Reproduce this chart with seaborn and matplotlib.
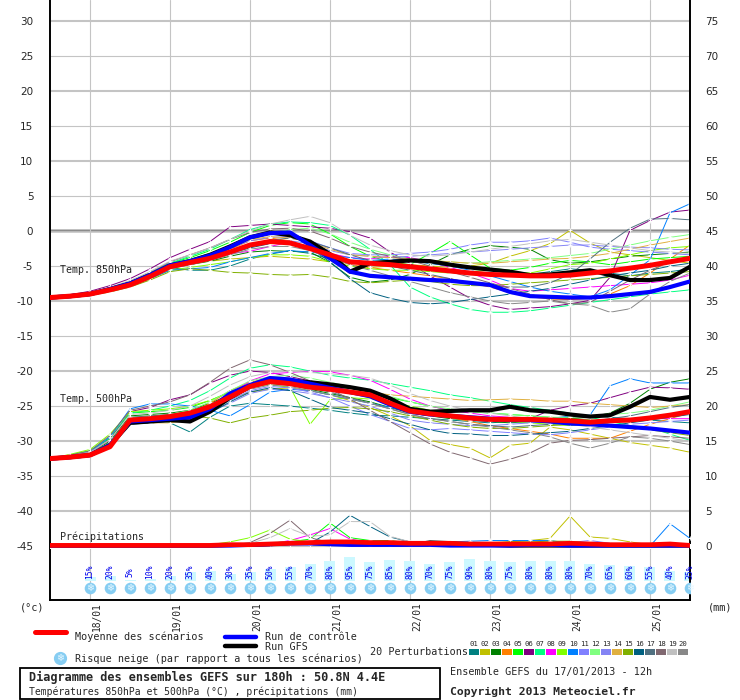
import matplotlib
matplotlib.use("Agg")
import matplotlib.pyplot as plt
from matplotlib.lines import Line2D
from matplotlib.patches import Rectangle
import pandas as pd
import seaborn as sns

# ---------------- data ----------------
hours = [0, 6, 12, 18, 24, 30, 36, 42, 48, 54, 60, 66, 72, 78, 84, 90, 96,
         102, 108, 114, 120, 126, 132, 138, 144, 150, 156, 162, 168, 174, 180, 186, 192]
day_hours = [12, 36, 60, 84, 108, 132, 156, 180]
day_labels = ["18/01", "19/01", "20/01", "21/01", "22/01", "23/01", "24/01", "25/01"]

member_ids = ["01", "02", "03", "04", "05", "06", "07", "08", "09", "10",
              "11", "12", "13", "14", "15", "16", "17", "18", "19", "20"]
member_colors = ["#008080", "#c0c000", "#008000", "#ff8000", "#00ff00", "#800080", "#00ff80",
                 "#ff00ff", "#80ff00", "#0080ff", "#8080ff", "#80ff80", "#8484f4", "#e0b040",
                 "#80b000", "#006080", "#507080", "#806870", "#c0c0c0", "#888888"]

# 850 hPa temperature (degC)
mean850 = [-9.5,-9.3,-9.0,-8.4,-7.7,-6.5,-5.1,-4.5,-3.9,-3.0,-2.0,-1.5,-1.7,-2.5,-3.4,-4.4,-4.6,-4.8,-5.1,-5.4,-5.7,-6.0,-6.2,-6.3,-6.4,-6.4,-6.3,-6.0,-5.7,-5.3,-4.9,-4.4,-3.9]
ctl850 = [-9.5,-9.3,-9.0,-8.3,-7.5,-6.3,-4.9,-4.3,-3.5,-2.3,-0.9,-0.3,-0.2,-2.0,-3.9,-5.8,-6.4,-6.6,-6.8,-7.0,-7.1,-7.4,-7.7,-8.7,-9.3,-9.4,-9.5,-9.5,-9.3,-9.0,-8.7,-8.0,-7.2]
gfs850 = [-9.5,-9.3,-9.0,-8.3,-7.5,-6.3,-4.9,-4.3,-3.4,-2.2,-0.9,-0.2,-0.6,-1.5,-3.3,-5.8,-4.6,-4.4,-4.2,-4.3,-4.8,-5.2,-5.5,-5.8,-6.3,-6.2,-5.9,-5.6,-6.3,-7.0,-7.0,-6.7,-5.1]
m850_01 = [-9.5,-9.3,-9.0,-8.4,-7.6,-6.4,-5.2,-5.6,-5.6,-5.0,-4.0,-3.3,-2.8,-3.2,-4.0,-4.6,-4.4,-4.2,-4.4,-4.6,-5.0,-5.2,-5.4,-5.8,-6.2,-5.8,-5.4,-5.6,-6.0,-6.4,-6.0,-5.8,-5.4]
m850_02 = [-9.5,-9.2,-8.9,-8.2,-7.5,-6.3,-5.0,-4.6,-4.3,-4.0,-3.8,-3.6,-3.8,-4.0,-4.4,-5.0,-5.2,-5.0,-4.8,-5.0,-5.2,-5.0,-4.6,-3.6,-2.8,-1.8,0.1,-1.7,-3.0,-3.4,-3.8,-4.2,-4.6]
m850_03 = [-9.5,-9.3,-9.0,-8.4,-7.7,-6.6,-5.3,-4.8,-4.3,-3.6,-3.0,-2.8,-2.9,-3.0,-4.5,-6.6,-7.3,-7.0,-6.2,-4.8,-3.4,-2.6,-2.1,-2.3,-2.6,-4.1,-4.6,-4.4,-4.0,-3.6,-3.4,-3.2,-3.0]
m850_04 = [-9.5,-9.3,-9.0,-8.3,-7.6,-6.4,-5.0,-4.4,-3.6,-2.6,-1.4,-1.0,-1.4,-2.6,-3.8,-4.8,-5.2,-5.6,-6.0,-6.4,-6.8,-7.4,-8.0,-8.8,-9.4,-9.7,-9.8,-9.6,-9.0,-7.8,-6.0,-4.0,-2.0]
m850_05 = [-9.5,-9.2,-8.8,-8.1,-7.2,-6.0,-4.6,-3.8,-2.8,-1.6,-0.2,0.8,1.2,1.0,-0.4,-2.2,-3.6,-4.4,-4.8,-3.2,-1.5,-3.4,-5.3,-5.6,-5.2,-4.6,-4.2,-4.4,-4.8,-4.4,-4.0,-3.8,-3.6]
m850_06 = [-9.5,-9.1,-8.6,-7.8,-6.8,-5.4,-3.8,-2.6,-1.5,0.6,0.8,1.0,0.8,0.6,0.4,-0.1,-1.0,-3.0,-4.6,-6.4,-8.0,-9.6,-10.6,-11.2,-11.0,-10.8,-10.4,-9.9,-6.6,0.1,1.5,2.7,3.0]
m850_07 = [-9.5,-9.2,-8.8,-8.1,-7.2,-6.0,-4.6,-3.6,-2.6,-1.2,0.2,1.0,1.3,1.2,0.8,-0.6,-2.6,-4.8,-8.0,-9.4,-10.4,-11.2,-11.6,-11.6,-11.4,-11.0,-10.6,-10.2,-9.8,-9.4,-9.0,-8.7,-8.4]
m850_08 = [-9.5,-9.3,-9.0,-8.4,-7.6,-6.4,-5.0,-4.4,-3.8,-3.2,-2.9,-2.2,-1.6,-2.2,-3.2,-3.8,-4.0,-3.6,-3.8,-4.4,-5.2,-6.0,-7.0,-8.2,-8.6,-8.4,-8.2,-8.0,-7.8,-7.6,-7.4,-7.0,-6.3]
m850_09 = [-9.5,-9.4,-9.2,-8.6,-7.9,-6.8,-5.6,-5.2,-4.8,-4.4,-3.8,-3.4,-3.4,-3.6,-4.4,-5.0,-5.4,-5.6,-5.6,-5.8,-6.0,-5.8,-5.6,-5.8,-6.0,-5.4,-4.8,-4.6,-4.0,-3.4,-2.8,-2.4,-2.2]
m850_10 = [-9.5,-9.3,-9.0,-8.5,-7.8,-6.8,-5.6,-5.4,-5.2,-4.4,-3.8,-3.2,-2.8,-3.0,-3.4,-3.8,-4.2,-4.0,-4.2,-4.6,-5.0,-5.6,-6.4,-7.2,-8.0,-8.6,-9.0,-9.4,-8.4,-6.3,-4.1,2.6,3.9]
m850_11 = [-9.5,-9.2,-8.9,-8.2,-7.4,-6.2,-4.8,-4.2,-3.4,-2.4,-1.4,-0.9,-0.8,-1.4,-2.4,-3.2,-3.4,-3.4,-3.2,-3.0,-2.6,-2.0,-1.6,-1.6,-1.4,-1.0,-1.6,-2.3,-2.6,-2.8,-3.0,-3.2,-3.4]
m850_12 = [-9.5,-9.2,-8.8,-8.1,-7.3,-6.1,-4.7,-4.0,-3.2,-2.2,-1.2,-0.4,0.2,0.4,-0.4,-1.6,-2.6,-3.4,-4.0,-4.2,-4.4,-4.6,-4.4,-4.2,-4.0,-3.8,-3.5,-3.2,-2.6,-2.0,-1.4,-0.9,-0.5]
m850_13 = [-9.5,-9.3,-9.0,-8.4,-7.7,-6.6,-5.2,-4.6,-3.9,-3.1,-2.2,-1.6,-1.4,-1.8,-2.8,-3.4,-3.6,-3.8,-3.6,-3.4,-3.2,-3.0,-2.8,-2.6,-2.4,-2.2,-2.0,-2.0,-2.2,-2.3,-2.4,-2.6,-2.7]
m850_14 = [-9.5,-9.3,-8.9,-8.2,-7.4,-6.2,-4.8,-4.1,-3.2,-2.2,-1.2,-0.8,-1.0,-1.6,-2.6,-3.4,-3.6,-3.8,-4.0,-4.2,-4.4,-4.6,-4.6,-4.4,-4.2,-4.0,-3.9,-3.6,-3.2,-2.6,-2.0,-1.5,-1.0]
m850_15 = [-9.5,-9.4,-9.2,-8.7,-8.0,-7.0,-5.8,-5.4,-5.6,-5.9,-6.0,-6.2,-6.3,-6.2,-6.6,-7.2,-7.4,-7.2,-7.0,-7.2,-7.6,-7.8,-7.8,-7.6,-7.4,-7.2,-7.0,-6.8,-6.6,-6.4,-6.2,-6.0,-5.8]
m850_16 = [-9.5,-9.3,-9.0,-8.4,-7.7,-6.6,-5.3,-4.7,-4.0,-3.2,-2.4,-1.8,-1.6,-2.4,-4.4,-6.8,-8.8,-9.6,-10.2,-10.4,-10.2,-9.8,-9.4,-9.0,-8.6,-8.2,-7.6,-7.0,-6.4,-6.0,-5.6,-5.0,-4.6]
m850_17 = [-9.5,-9.2,-8.9,-8.3,-7.5,-6.3,-4.9,-4.3,-3.6,-2.8,-2.0,-1.3,-1.0,-1.5,-2.4,-3.4,-4.2,-5.0,-5.6,-6.2,-6.8,-7.4,-7.8,-8.0,-8.0,-7.4,-6.2,-4.0,-1.6,0.4,1.7,1.8,1.6]
m850_18 = [-9.5,-9.2,-8.8,-8.1,-7.2,-5.9,-4.4,-3.4,-2.4,-1.2,-0.2,0.3,0.4,0.0,-1.0,-2.2,-3.0,-3.6,-4.2,-5.0,-5.8,-6.6,-7.4,-8.2,-9.0,-9.8,-10.4,-10.2,-8.6,-7.0,-5.6,-4.4,-3.8]
m850_19 = [-9.5,-9.2,-8.8,-8.0,-7.1,-5.8,-4.3,-3.4,-2.4,-1.2,0.0,1.0,1.6,2.1,1.2,-0.6,-2.0,-2.8,-3.4,-3.6,-3.4,-3.0,-2.6,-2.2,-1.8,-1.4,-1.2,-1.6,-2.0,-2.4,-2.8,-3.0,-3.2]
m850_20 = [-9.5,-9.3,-9.0,-8.5,-7.8,-6.7,-5.4,-4.8,-4.2,-3.4,-2.6,-2.2,-2.2,-2.8,-3.8,-4.8,-5.6,-6.4,-7.2,-8.0,-8.8,-9.4,-10.0,-10.4,-10.2,-10.0,-10.4,-10.6,-11.6,-11.1,-9.0,-7.2,-6.0]

# 500 hPa temperature (degC)
mean500 = [-32.5,-32.3,-32.0,-30.8,-27.0,-26.8,-26.5,-26.0,-25.1,-23.7,-22.2,-21.5,-21.8,-22.3,-22.6,-23.0,-23.4,-24.6,-25.7,-26.1,-26.4,-26.7,-26.9,-26.9,-26.9,-27.0,-27.1,-27.3,-27.1,-27.0,-26.7,-26.3,-25.8]
ctl500 = [-32.5,-32.3,-32.0,-30.6,-27.2,-27.0,-26.8,-26.6,-25.4,-23.2,-22.0,-21.0,-21.2,-21.8,-22.4,-23.0,-23.6,-24.8,-25.8,-26.2,-26.4,-26.6,-26.8,-27.0,-27.0,-27.2,-27.5,-27.6,-27.8,-28.0,-28.2,-28.5,-28.8]
gfs500 = [-32.5,-32.3,-32.0,-30.6,-27.4,-27.2,-27.0,-27.2,-25.8,-23.8,-22.2,-21.2,-21.4,-21.6,-21.9,-22.3,-22.8,-23.9,-25.4,-25.8,-25.7,-25.6,-25.6,-25.1,-25.6,-25.8,-26.2,-26.5,-26.3,-25.1,-23.7,-24.1,-23.7]
m500_01 = [-32.5,-32.2,-31.8,-30.2,-26.8,-26.6,-27.4,-28.7,-26.6,-25.0,-24.6,-24.8,-25.0,-25.3,-25.6,-26.0,-26.3,-26.4,-26.6,-26.8,-27.0,-27.2,-27.4,-27.2,-27.0,-26.8,-26.6,-26.4,-26.6,-26.8,-27.0,-27.2,-27.4]
m500_02 = [-32.5,-32.3,-32.0,-30.4,-27.0,-26.6,-26.4,-26.2,-25.4,-24.0,-23.0,-22.6,-22.4,-22.8,-23.4,-24.2,-25.2,-26.4,-27.8,-29.9,-30.5,-31.0,-32.4,-30.6,-30.3,-28.0,-28.4,-29.0,-29.6,-30.2,-30.6,-31.0,-31.6]
m500_03 = [-32.5,-32.2,-31.8,-30.0,-26.4,-26.2,-26.0,-25.6,-24.6,-23.4,-22.4,-21.8,-22.0,-22.6,-23.2,-23.8,-24.4,-25.2,-26.0,-26.4,-26.8,-27.0,-27.2,-27.4,-27.2,-27.0,-26.8,-26.6,-26.0,-24.6,-22.6,-21.6,-21.1]
m500_04 = [-32.5,-32.3,-31.9,-30.4,-26.8,-26.6,-26.4,-26.0,-24.6,-22.8,-21.6,-21.0,-21.4,-22.0,-22.6,-23.2,-23.8,-24.6,-25.4,-26.0,-26.6,-27.2,-27.8,-28.2,-28.6,-29.0,-29.6,-29.6,-29.6,-28.6,-27.6,-26.8,-26.0]
m500_05 = [-32.5,-32.0,-31.4,-29.6,-26.0,-25.8,-25.6,-25.2,-24.2,-23.0,-21.8,-21.2,-21.0,-21.6,-22.2,-22.8,-23.2,-23.8,-24.4,-25.0,-25.6,-25.8,-26.0,-26.2,-26.4,-26.6,-26.8,-27.0,-27.2,-27.0,-26.8,-26.4,-26.0]
m500_06 = [-32.5,-32.1,-31.6,-29.8,-25.8,-25.2,-24.1,-23.4,-21.7,-20.6,-20.0,-20.2,-20.8,-21.4,-22.0,-22.8,-23.6,-24.4,-25.2,-25.8,-26.4,-27.0,-27.2,-27.2,-26.8,-25.6,-25.0,-24.6,-23.8,-23.0,-22.3,-22.4,-22.6]
m500_07 = [-32.5,-32.0,-31.4,-29.4,-26.0,-25.6,-25.0,-24.2,-22.8,-21.0,-19.6,-19.1,-19.4,-20.0,-20.6,-21.0,-21.3,-21.8,-22.3,-22.8,-23.4,-23.8,-24.3,-24.8,-25.2,-25.6,-26.0,-26.6,-27.2,-27.8,-28.1,-29.0,-29.9]
m500_08 = [-32.5,-32.3,-32.0,-30.8,-27.2,-27.0,-26.8,-26.4,-25.8,-23.4,-21.4,-20.4,-20.2,-20.0,-20.1,-20.6,-21.3,-22.6,-24.0,-25.0,-25.6,-26.0,-26.4,-26.6,-26.8,-27.0,-27.2,-27.4,-27.2,-27.0,-26.8,-26.8,-26.8]
m500_09 = [-32.5,-31.9,-31.2,-29.0,-25.8,-25.6,-25.4,-25.0,-24.2,-23.0,-22.0,-22.0,-22.3,-27.6,-24.1,-23.8,-24.0,-24.4,-25.0,-25.6,-26.2,-26.6,-27.0,-27.2,-27.4,-27.6,-27.8,-27.6,-27.4,-27.0,-26.6,-26.2,-25.8]
m500_10 = [-32.5,-32.1,-31.6,-29.4,-25.4,-24.7,-24.7,-25.0,-25.6,-26.4,-24.8,-23.0,-22.6,-22.8,-23.4,-24.0,-24.6,-25.2,-25.8,-26.2,-26.4,-26.6,-26.8,-27.0,-27.2,-26.8,-26.4,-26.3,-22.1,-21.1,-21.7,-21.7,-21.7]
m500_11 = [-32.5,-32.3,-32.0,-30.6,-27.2,-26.9,-26.6,-26.2,-25.4,-24.2,-22.8,-22.2,-22.4,-23.0,-23.8,-25.0,-26.2,-27.2,-28.2,-28.4,-28.2,-28.4,-28.6,-28.8,-29.0,-29.1,-28.8,-28.4,-28.0,-27.6,-27.4,-27.2,-27.0]
m500_12 = [-32.5,-32.2,-31.8,-30.2,-26.6,-26.4,-26.2,-25.6,-24.4,-22.8,-21.4,-20.8,-20.6,-21.0,-21.6,-22.2,-22.8,-23.6,-24.4,-25.0,-25.4,-25.8,-26.0,-26.2,-26.4,-26.6,-26.6,-26.4,-26.2,-26.0,-25.6,-25.0,-24.4]
m500_13 = [-32.5,-32.3,-32.0,-30.8,-27.4,-27.2,-27.0,-26.6,-25.8,-24.6,-23.2,-22.6,-22.8,-23.2,-23.8,-24.4,-25.0,-26.0,-27.0,-27.4,-27.6,-27.8,-27.8,-27.6,-27.4,-27.2,-27.4,-27.6,-27.8,-28.0,-28.2,-28.6,-29.0]
m500_14 = [-32.5,-32.3,-31.9,-30.6,-27.4,-27.4,-27.4,-27.0,-25.8,-23.8,-22.2,-21.6,-21.6,-21.8,-22.2,-22.6,-23.0,-23.4,-23.6,-23.8,-24.0,-24.2,-24.1,-24.0,-24.1,-24.3,-24.3,-24.6,-24.8,-25.0,-25.2,-25.0,-24.8]
m500_15 = [-32.5,-32.3,-32.0,-30.6,-27.0,-26.8,-26.6,-26.4,-26.7,-27.4,-26.7,-26.3,-25.8,-25.6,-25.3,-25.2,-25.4,-25.8,-26.4,-27.0,-27.6,-28.0,-28.2,-28.2,-28.0,-27.8,-27.6,-27.6,-27.8,-28.0,-28.4,-28.8,-29.2]
m500_16 = [-32.5,-32.3,-32.0,-30.8,-27.6,-27.4,-27.2,-27.0,-26.0,-24.4,-23.0,-22.4,-22.8,-24.0,-25.2,-25.6,-26.0,-26.8,-27.6,-28.4,-28.9,-29.0,-29.2,-29.2,-29.0,-28.8,-28.6,-28.2,-27.8,-27.4,-27.0,-26.6,-26.2]
m500_17 = [-32.5,-32.2,-31.8,-30.2,-26.6,-26.4,-26.2,-25.8,-24.8,-23.4,-22.2,-21.6,-21.8,-22.4,-23.0,-23.8,-24.6,-25.4,-26.2,-26.8,-27.2,-27.6,-27.8,-28.0,-27.8,-27.6,-27.4,-27.2,-26.8,-26.4,-25.8,-25.2,-24.8]
m500_18 = [-32.5,-32.0,-31.4,-29.2,-25.6,-25.0,-24.4,-23.4,-21.6,-19.6,-18.4,-19.1,-20.2,-21.4,-22.6,-24.0,-25.6,-27.2,-28.8,-30.4,-31.6,-32.4,-33.3,-32.6,-31.7,-30.3,-29.9,-29.8,-29.6,-29.4,-29.2,-29.4,-29.6]
m500_19 = [-32.5,-32.1,-31.6,-29.8,-26.2,-26.0,-25.6,-25.0,-23.6,-22.0,-20.8,-20.2,-20.0,-20.2,-20.4,-20.6,-21.0,-22.0,-23.2,-24.2,-25.0,-25.6,-26.0,-26.4,-26.8,-27.2,-27.6,-28.0,-28.4,-28.8,-29.2,-29.6,-30.0]
m500_20 = [-32.5,-32.3,-32.0,-30.6,-27.2,-27.0,-26.8,-26.4,-25.4,-23.8,-22.6,-22.0,-22.2,-22.8,-23.4,-24.0,-24.6,-25.4,-26.2,-26.8,-27.2,-27.6,-28.0,-28.4,-28.8,-29.4,-30.3,-31.0,-30.3,-29.4,-29.6,-30.0,-30.5]

# precipitation (mm)
meanpr = [0.1,0.1,0.1,0.1,0.1,0.1,0.1,0.1,0.1,0.2,0.2,0.3,0.4,0.5,0.6,0.6,0.5,0.5,0.4,0.4,0.4,0.3,0.3,0.3,0.3,0.3,0.4,0.3,0.2,0.2,0.2,0.3,0.1]
ctlpr = [0.0,0.0,0.0,0.0,0.0,0.0,0.0,0.0,0.0,0.0,0.1,0.2,0.3,0.3,0.2,0.1,0.1,0.1,0.1,0.1,0.0,0.0,0.0,0.0,0.1,0.1,0.0,0.0,0.0,0.0,0.0,0.0,0.0]
gfspr = [0.0,0.0,0.0,0.0,0.0,0.0,0.0,0.0,0.0,0.1,0.1,0.2,0.4,0.5,0.4,0.3,0.3,0.2,0.2,0.6,0.5,0.2,0.1,0.0,0.0,0.0,0.0,0.0,0.0,0.0,0.0,0.0,0.0]
p_01 = [0,0,0,0,0,0,0,0,0,0.1,0.2,0.3,0.5,0.4,0.3,0.2,0.1,0.1,0.2,0.3,0.2,0.1,0.1,0.2,0.3,0.2,0.1,0,0,0,0,0,0]
p_02 = [0,0,0,0,0,0,0,0,0,0,0.1,0.2,0.3,0.3,0.2,0.2,0.1,0.1,0.1,0.2,0.3,0.4,0.5,0.6,0.8,1.1,4.3,1.3,1.1,0.6,0.2,0,0]
p_03 = [0,0,0,0,0,0,0,0,0,0.2,0.3,0.2,0.6,0.5,0.6,0.4,0.3,0.2,0.2,0.1,0.1,0.1,0.1,0.2,0.2,0.1,0.1,0,0,0,0,0,0]
p_04 = [0,0,0,0,0,0,0,0,0,0,0,0.1,0.2,0.3,0.2,0.1,0,0,0,0,0,0,0,0,0.1,0.1,0,0,0,0,0,0,0]
p_05 = [0,0,0,0,0,0,0,0,0,0.1,0.2,0.4,0.6,1.0,3.3,1.2,0.8,0.8,0.4,0.3,0.2,0.1,0.1,0.1,0.1,0.1,0,0,0,0,0,0,0]
p_06 = [0,0,0,0,0,0,0,0,0,0,0,0.2,0.3,0.2,0.1,0.2,0.6,0.6,0.5,0.3,0.2,0.1,0.1,0,0,0,0,0,0,0,0,0,0]
p_07 = [0,0,0,0,0,0,0,0,0,0,0.2,0.4,0.7,0.5,0.3,0.2,0.8,0.6,0.3,0.2,0.1,0,0,0,0,0,0,0,0,0,0,0,0]
p_08 = [0,0,0,0,0,0,0,0,0,0,0.1,0.3,0.8,1.6,2.5,1.0,0.5,0.3,0.2,0.1,0.1,0,0,0,0,0,0,0,0,0,0,0,0]
p_09 = [0,0,0,0,0,0,0,0,0.2,0.6,1.2,2.3,1.0,0.6,0.4,0.3,0.2,0.1,0.1,0.1,0,0,0,0,0,0,0,0,0,0,0,0,0]
p_10 = [0,0,0,0,0,0,0,0,0,0,0.1,0.2,0.4,0.3,0.2,0.2,0.1,0.1,0.2,0.4,0.6,0.7,0.8,0.8,0.8,0.8,0.4,0.2,0.1,0,0,3.2,1.1]
p_11 = [0,0,0,0,0,0,0,0,0,0,0,0.1,0.3,0.4,0.2,0.1,0.1,0.1,0.1,0.1,0.2,0.2,0.3,0.3,0.4,0.4,0.5,0.8,0.4,0.2,0.1,0,0]
p_12 = [0,0,0,0,0,0,0,0,0,0.1,0.2,0.5,0.6,0.4,0.2,0.2,0.5,0.4,0.3,0.2,0.1,0.1,0.1,0.1,0.1,0.1,0,0,0,0,0,0,0]
p_13 = [0,0,0,0,0,0,0,0,0,0,0.1,0.3,0.5,0.3,0.2,0.1,0.1,0.1,0.1,0.2,0.2,0.2,0.2,0.2,0.2,0.3,0.2,0.1,0,0,0,0,0]
p_14 = [0,0,0,0,0,0,0,0,0,0,0,0.1,0.2,0.2,0.1,0.1,0.1,0,0,0,0,0.1,0.1,0.1,0.1,0.2,0.2,0.1,0,0,0,0,0]
p_15 = [0,0,0,0,0,0,0,0,0.1,0.2,0.3,0.4,0.3,0.3,0.2,0.2,0.1,0.1,0.1,0.1,0.2,0.3,0.4,0.6,0.6,0.7,0.7,0.4,0.2,0.1,0,0,0]
p_16 = [0,0,0,0,0,0,0,0,0,0.1,0.2,0.3,0.4,0.4,2.0,4.4,2.8,1.3,0.6,0.3,0.2,0.2,0.1,0.1,0.1,0.1,0,0,0,0,0,0,0]
p_17 = [0,0,0,0,0,0,0,0,0,0,0.1,0.2,0.5,0.4,0.3,0.2,0.2,0.3,0.4,0.3,0.2,0.1,0.1,0,0,0,0,0,0,0,0,0,0]
p_18 = [0,0,0,0,0,0,0,0,0,0.1,0.5,1.8,3.7,1.2,0.5,0.3,0.4,0.6,0.6,0.4,0.2,0.1,0.1,0,0,0,0,0,0,0,0,0,0]
p_19 = [0,0,0,0,0,0,0,0,0,0.2,0.4,1.2,2.5,1.4,1.6,3.5,3.5,1.4,0.6,0.5,0.4,0.3,0.2,0.1,0.1,0,0,0,0,0,0,0,0]
p_20 = [0,0,0,0,0,0,0,0,0,0,0.1,0.2,0.4,0.3,0.2,0.2,0.1,0.1,0.2,0.3,0.3,0.2,0.2,0.1,0.1,0.1,0.1,0,0,0,0,0,0]

# snow risk (% of scenarios), every 6h from 18/01 00h
snow_hours = [12, 18, 24, 30, 36, 42, 48, 54, 60, 66, 72, 78, 84, 90, 96, 102, 108, 114, 120,
              126, 132, 138, 144, 150, 156, 162, 168, 174, 180, 186, 192]
snow_pct = [15, 20, 5, 10, 20, 35, 40, 30, 35, 50, 55, 70, 80, 95, 75, 85, 80, 70, 75,
            90, 80, 75, 80, 80, 80, 70, 65, 60, 55, 40, 35]

m850 = [m850_01, m850_02, m850_03, m850_04, m850_05, m850_06, m850_07, m850_08, m850_09, m850_10,
        m850_11, m850_12, m850_13, m850_14, m850_15, m850_16, m850_17, m850_18, m850_19, m850_20]
m500 = [m500_01, m500_02, m500_03, m500_04, m500_05, m500_06, m500_07, m500_08, m500_09, m500_10,
        m500_11, m500_12, m500_13, m500_14, m500_15, m500_16, m500_17, m500_18, m500_19, m500_20]
mpr = [p_01, p_02, p_03, p_04, p_05, p_06, p_07, p_08, p_09, p_10,
       p_11, p_12, p_13, p_14, p_15, p_16, p_17, p_18, p_19, p_20]


def long_df(series_list):
    rows = []
    for mid, vals in zip(member_ids, series_list):
        for t, v in zip(hours, vals):
            rows.append((mid, t, v))
    return pd.DataFrame(rows, columns=["member", "t", "v"])


def one_df(vals):
    return pd.DataFrame({"t": hours, "v": vals})


# ---------------- style ----------------
sns.set_style("white")
plt.rcParams["font.family"] = ["DejaVu Sans Mono", "DejaVu Sans"]
palette = dict(zip(member_ids, member_colors))
W, H = 740, 700

fig = plt.figure(figsize=(7.4, 7.0), dpi=100)
ax = fig.add_axes([50 / W, 100 / H, 640 / W, 600 / H])
ax.set_xlim(0, 192)
ax.set_ylim(-52.7, 33.0)

# grid
for v in range(-45, 31, 5):
    if v == 0:
        continue
    ax.axhline(v, color="#c4c4c4", lw=1.5 if v % 10 == 0 else 0.8, zorder=0)
ax.axhline(0, color="#c4c4c4", lw=2.6, zorder=0)
ax.axhline(0.1, color="#8c8c8c", lw=1.0, zorder=0)
for d in day_hours:
    ax.axvline(d, color="#c4c4c4", lw=0.8, zorder=0)

# snow risk bars, labels and icons
ax.bar(snow_hours, [p * 0.0357 for p in snow_pct], bottom=-50.0, width=3.3,
       color="#ccf8ff", zorder=1, linewidth=0)
for h, p in zip(snow_hours, snow_pct):
    ax.text(h, -48.7, f"{p}%", rotation=90, ha="center", va="center",
            color="#0000ee", fontsize=5.8, zorder=3)
ax.scatter(snow_hours, [-51.0] * len(snow_hours), s=70, color="#86cdf2", zorder=3, linewidths=0)
for h in snow_hours:
    ax.text(h, -51.0, "\u2744", ha="center", va="center", color="#e8f8ff",
            fontsize=7, zorder=4, family=["DejaVu Sans"])

# temperature members
for data in (m850, m500):
    sns.lineplot(data=long_df(data), x="t", y="v", hue="member", palette=palette,
                 marker="+", markersize=3, markeredgewidth=0.6, linewidth=0.7,
                 legend=False, ax=ax, estimator=None, sort=False, zorder=2)
for g, c, m in ((gfs850, ctl850, mean850), (gfs500, ctl500, mean500)):
    sns.lineplot(data=one_df(g), x="t", y="v", color="black", linewidth=3.0, ax=ax, zorder=4)
    sns.lineplot(data=one_df(c), x="t", y="v", color="#0000ff", linewidth=3.0, ax=ax, zorder=5)
    sns.lineplot(data=one_df(m), x="t", y="v", color="#ff0000", linewidth=3.6, ax=ax, zorder=6)

# section labels
ax.text(3, -5.6, "Temp. 850hPa", fontsize=7.2, va="center", ha="left", zorder=7)
ax.text(3, -24.0, "Temp. 500hPa", fontsize=7.2, va="center", ha="left", zorder=7)
ax.text(3, -43.6, "Précipitations", fontsize=7.2, va="center", ha="left", zorder=7)

# precipitation on right axis
ax2 = ax.twinx()
ax2.set_ylim(-52.7 + 45, 33.0 + 45)
sns.lineplot(data=long_df(mpr), x="t", y="v", hue="member", palette=palette,
             marker="+", markersize=3, markeredgewidth=0.6, linewidth=0.7,
             legend=False, ax=ax2, estimator=None, sort=False, zorder=2)
sns.lineplot(data=one_df(gfspr), x="t", y="v", color="black", linewidth=2.2, ax=ax2, zorder=4)
sns.lineplot(data=one_df(ctlpr), x="t", y="v", color="#0000ff", linewidth=2.2, ax=ax2, zorder=5)
sns.lineplot(data=one_df(meanpr), x="t", y="v", color="#ff0000", linewidth=3.4, ax=ax2, zorder=6)

# axes decoration
for a in (ax, ax2):
    a.set_xlabel("")
    a.set_ylabel("")
    for s in a.spines.values():
        s.set_visible(False)
ax.spines["left"].set_visible(True)
ax.spines["bottom"].set_visible(True)
ax.spines["right"].set_visible(True)
for s in ("left", "bottom", "right"):
    ax.spines[s].set_color("black")
    ax.spines[s].set_linewidth(1.4)

ax.set_yticks(list(range(-45, 31, 5)))
ax.set_yticklabels([str(v) for v in range(-45, 31, 5)], family=["DejaVu Sans"], fontsize=7.5)
ax.tick_params(axis="y", length=0, pad=12)
ax2.set_yticks(list(range(0, 76, 5)))
ax2.set_yticklabels([str(v) for v in range(0, 76, 5)], family=["DejaVu Sans"], fontsize=7.5)
ax2.tick_params(axis="y", length=0, pad=11)
ax.set_xticks(day_hours)
ax.set_xticklabels([])
ax.tick_params(axis="x", length=3, color="#b0b0b0", width=0.8)
ax2.set_xticks([])
for d, lab in zip(day_hours, day_labels):
    ax.text(d + 2.1, -0.004, lab, rotation=90, ha="center", va="top", fontsize=6.9,
            transform=ax.get_xaxis_transform())


def fx(px):
    return px / W


def fy(py):
    return 1 - py / H


fig.text(fx(20), fy(607), "(°c)", fontsize=7.4, va="center", ha="left")
fig.text(fx(708), fy(607), "(mm)", fontsize=7.4, va="center", ha="left")

# legend
fig.add_artist(Line2D([fx(35), fx(66)], [fy(632), fy(632)], color="#ff0000", lw=3.6))
fig.text(fx(75), fy(637), "Moyenne des scénarios", fontsize=7.3, va="center")
fig.add_artist(Line2D([fx(225), fx(256)], [fy(637), fy(637)], color="#0000ff", lw=3.2))
fig.text(fx(265), fy(637), "Run de contrôle", fontsize=7.3, va="center")
fig.add_artist(Line2D([fx(225), fx(256)], [fy(646), fy(646)], color="black", lw=3.2))
fig.text(fx(265), fy(647), "Run GFS", fontsize=7.3, va="center")
fig.add_artist(Line2D([fx(60)], [fy(658)], marker="o", markersize=8.5, color="#86cdf2", lw=0))
fig.text(fx(60), fy(658), "\u2744", fontsize=7, ha="center", va="center", color="#e8f8ff",
         family=["DejaVu Sans"])
fig.text(fx(75), fy(659), "Risque neige (par rapport a tous les scénarios)", fontsize=7.3, va="center")
fig.text(fx(370), fy(652), "20 Perturbations", fontsize=7.3, va="center")
for k, (mid, col) in enumerate(zip(member_ids, member_colors)):
    x0 = 469 + 11 * k
    fig.add_artist(Rectangle((fx(x0), fy(655)), 10 / W, 6 / H, color=col, lw=0))
    fig.text(fx(x0 + 5), fy(644), mid, fontsize=5.2, ha="center", va="center")

fig.add_artist(Rectangle((fx(20), fy(699)), 420 / W, 31 / H, fill=False, ec="black", lw=1.3))
fig.text(fx(29), fy(677), "Diagramme des ensembles GEFS sur 180h : 50.8N 4.4E",
         fontsize=8.6, weight="bold", va="center")
fig.text(fx(29), fy(692), "Températures 850hPa et 500hPa (°C) , précipitations (mm)",
         fontsize=7.0, va="center")
fig.text(fx(450), fy(672), "Ensemble GEFS du 17/01/2013 - 12h", fontsize=7.3, va="center")
fig.text(fx(450), fy(692), "Copyright 2013 Meteociel.fr", fontsize=8.2, weight="bold", va="center")

fig.savefig("out.png", dpi=100)
